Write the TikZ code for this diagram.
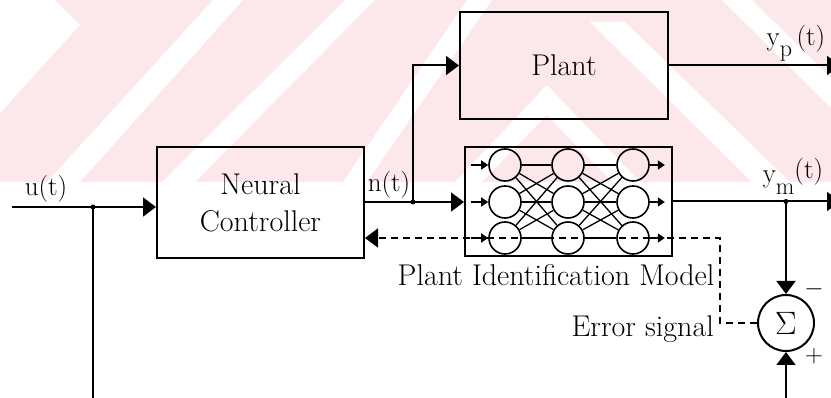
\documentclass[tikz,border=0pt]{standalone}
\usepackage{fontspec}
\usepackage{graphicx}
\usetikzlibrary{arrows.meta,calc}
\definecolor{wm}{RGB}{252,231,235}
\newcommand\lblfont{\fontsize{30}{34}\selectfont}
\newcommand\smlfont{\fontsize{27}{30}\selectfont}
\newcommand\ncfont{\fontsize{30}{37}\selectfont}
\newcommand\yfont{\fontsize{27}{30}\selectfont}
\newcommand\subfont{\fontsize{24}{26}\selectfont}
\tikzset{
  wire/.style={line width=2pt},
  arr/.style={wire,-{Triangle[length=13pt,width=19pt]}},
  sarr/.style={line width=1.5pt,-{Triangle[length=7pt,width=9pt]}},
  blk/.style={draw,line width=2pt,inner sep=0pt,align=center,font=\lblfont},
  neuron/.style={circle,draw,line width=1.6pt,minimum size=32pt,inner sep=0pt},
  syn/.style={line width=1.3pt},
  txt/.style={inner sep=0pt,font=\lblfont},
  errline/.style={line width=2pt,dash pattern=on 7pt off 5pt}
}
\begin{document}
\begin{tikzpicture}[x=1pt,y=-1pt]
\useasboundingbox (0,0) rectangle (831,398);
% watermark
\begin{scope}
\clip (0,0) rectangle (831,182);
\fill[wm] (0,0) rectangle (831,182);
\fill[white] (0,0) -- (55,0) -- (80,25) -- (0,113) -- cycle;
\fill[white] (213,0) -- (243,0) -- (80,182) -- (47,182) -- cycle;
\fill[white] (345,0) -- (375,0) -- (195,182) -- (162,182) -- cycle;
\fill[white] (467,0) -- (492,0) -- (367,182) -- (343,182) -- cycle;
\fill[white] (547,85) -- (640,182) -- (612,182) -- (547,115) -- (482,182) -- (455,182) -- cycle;
\fill[white] (590,22) -- (625,22) -- (790,182) -- (752,182) -- cycle;
\fill[white] (722,0) -- (752,0) -- (831,78) -- (831,108) -- cycle;
\end{scope}
% blocks
\node[blk,minimum width=207pt,minimum height=111pt,font=\ncfont] (nc) at (260.5,202.5) {Neural\\Controller};
\node[blk,minimum width=208pt,minimum height=107pt] (plant) at (564,65.5) {Plant};
\node[blk,minimum width=207pt,minimum height=109pt] (pim) at (568.5,201.5) {};
\node[circle,draw,line width=2pt,minimum size=56pt,inner sep=0pt,font=\lblfont] (sum) at (786,323) {\scalebox{1.3}{$\Sigma$}};
% neurons
\foreach \c/\x in {1/505,2/568,3/633}
  \foreach \r/\y in {1/165,2/202,3/238}
    \node[neuron] (n\c\r) at (\x,\y) {};
\foreach \a in {1,2,3}
  \foreach \b in {1,2,3} {
    \draw[syn] (n1\a) -- (n2\b);
    \draw[syn] (n2\a) -- (n3\b);
  }
\foreach \r in {1,2,3} {
  \draw[sarr] ([xshift=-17pt]n1\r.west) -- (n1\r.west);
  \draw[sarr] (n3\r.east) -- ([xshift=15pt]n3\r.east);
}
% coordinates
\coordinate (uin) at (12,207);
\coordinate (uj) at (93,207);
\coordinate (ubot) at (93,400);
\coordinate (nj) at (413,202);
\coordinate (rend) at (840,0);
\coordinate (ymj) at (pim.east -| sum.center);
\coordinate (sbot) at (786,400);
\coordinate (ec) at (720,238);
% connectors
\draw[arr] (uin) -- (uin -| nc.west);
\draw[wire] (uj) -- (ubot);
\draw[arr] (nj -| nc.east) -- (nj -| pim.west);
\draw[arr] (nj) |- (plant.west);
\draw[arr] (plant.east) -- (plant.east -| rend);
\draw[arr] (pim.east) -- (pim.east -| rend);
\draw[arr] (ymj) -- (sum.north);
\draw[arr] (sbot) -- (sum.south);
\draw[errline,-{Triangle[length=13pt,width=19pt]}] (sum.west) -| (ec) -- (ec -| nc.east);
\fill (uj) circle (2.5pt);
\fill (nj) circle (2.5pt);
\fill (ymj) circle (2.5pt);
% labels
\node[txt,font=\smlfont] (ul) at (46,189) {u(t)};
\node[txt,font=\smlfont] (nl) at (389,185) {n(t)};
\node[txt,font=\yfont] (ypl) at (796,43) {y\raisebox{-0.4em}{\subfont p}\,(t)};
\node[txt,font=\yfont] (yml) at (793,176) {y\raisebox{-0.45em}{\subfont m}\raisebox{0.15em}{(t)}};
\node[txt] (pil) at (556,275) {Plant Identification Model};
\node[txt,anchor=east] (esl) at (714,329) {Error signal};
\node[txt] (mn) at (814,289) {$-$};
\node[txt] (pl) at (814,356) {$+$};
\end{tikzpicture}
\end{document}
